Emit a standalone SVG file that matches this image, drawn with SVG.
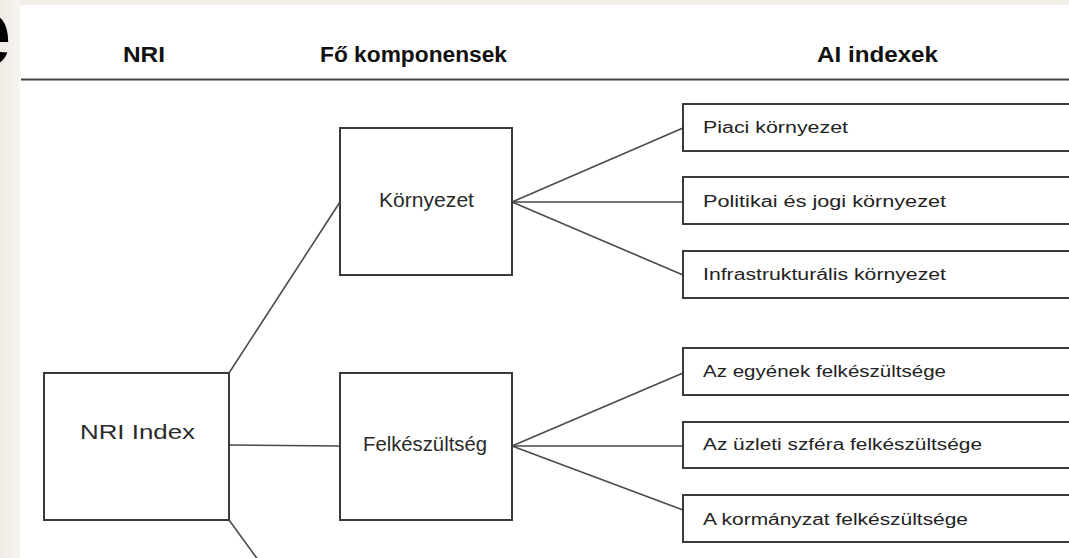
<svg xmlns="http://www.w3.org/2000/svg" width="1069" height="558" viewBox="0 0 1069 558">
  <defs>
    <linearGradient id="edge" x1="0" y1="0" x2="1" y2="0">
      <stop offset="0" stop-color="#efebe5"/>
      <stop offset="1" stop-color="#f6f4f0"/>
    </linearGradient>
    <style>
      .box { fill: #ffffff; stroke: #3a3a3a; stroke-width: 2; }
      .link { stroke: #4a4a4a; stroke-width: 1.6; fill: none; }
      .head { font-family: "Liberation Sans", Arial, sans-serif; font-weight: bold; font-size: 22px; fill: #111111; }
      .main { font-family: "Liberation Sans", Arial, sans-serif; font-size: 20px; fill: #2a2a2a; }
      .sub { font-family: "Liberation Sans", Arial, sans-serif; font-size: 16px; fill: #222222; }
    </style>
  </defs>

  <!-- page background and margins -->
  <rect x="0" y="0" width="1069" height="558" fill="#ffffff"/>
  <rect x="0" y="0" width="1069" height="5" fill="#f1eee9"/>
  <rect x="0" y="0" width="20" height="558" fill="url(#edge)"/>
  <text x="-44" y="66" font-family="Liberation Sans, Arial, sans-serif" font-weight="bold" font-size="100" fill="#000000">e</text>

  <!-- column headings -->
  <g id="headings">
    <text class="head" x="123" y="62" textLength="42" lengthAdjust="spacingAndGlyphs">NRI</text>
    <text class="head" x="320" y="62" textLength="187" lengthAdjust="spacingAndGlyphs">Fő komponensek</text>
    <text class="head" x="817" y="62" textLength="121" lengthAdjust="spacingAndGlyphs">AI indexek</text>
    <line x1="21" y1="79.5" x2="1069" y2="79.5" stroke="#444444" stroke-width="2"/>
  </g>

  <!-- connectors -->
  <g id="connectors">
    <line class="link" x1="229" y1="373" x2="340" y2="202"/>
    <line class="link" x1="229" y1="445" x2="340" y2="446"/>
    <line class="link" x1="229" y1="520" x2="264" y2="568"/>
    <line class="link" x1="512" y1="202" x2="683" y2="128"/>
    <line class="link" x1="512" y1="202" x2="683" y2="202"/>
    <line class="link" x1="512" y1="202" x2="683" y2="275"/>
    <line class="link" x1="512" y1="446" x2="683" y2="373"/>
    <line class="link" x1="512" y1="446" x2="683" y2="446"/>
    <line class="link" x1="512" y1="446" x2="683" y2="510"/>
  </g>

  <g id="nri-index">
    <rect class="box" x="44" y="373" width="185" height="147"/>
    <text class="main" x="80" y="439" font-size="23" textLength="115" lengthAdjust="spacingAndGlyphs">NRI Index</text>
  </g>

  <g id="kornyezet">
    <rect class="box" x="340" y="128" width="172" height="147"/>
    <text class="main" x="379" y="207" textLength="95" lengthAdjust="spacingAndGlyphs">Környezet</text>
  </g>

  <g id="felkeszultseg">
    <rect class="box" x="340" y="373" width="172" height="147"/>
    <text class="main" x="363" y="451" textLength="124" lengthAdjust="spacingAndGlyphs">Felkészültség</text>
  </g>

  <g id="piaci">
    <rect class="box" x="683" y="104" width="420" height="47"/>
    <text class="sub" x="703" y="133" textLength="145" lengthAdjust="spacingAndGlyphs">Piaci környezet</text>
  </g>

  <g id="politikai">
    <rect class="box" x="683" y="177" width="420" height="47"/>
    <text class="sub" x="703" y="207" textLength="243" lengthAdjust="spacingAndGlyphs">Politikai és jogi környezet</text>
  </g>

  <g id="infrastrukturalis">
    <rect class="box" x="683" y="251" width="420" height="47"/>
    <text class="sub" x="703" y="280" textLength="243" lengthAdjust="spacingAndGlyphs">Infrastrukturális környezet</text>
  </g>

  <g id="egyenek">
    <rect class="box" x="683" y="348" width="420" height="47"/>
    <text class="sub" x="703" y="377" textLength="243" lengthAdjust="spacingAndGlyphs">Az egyének felkészültsége</text>
  </g>

  <g id="uzleti">
    <rect class="box" x="683" y="422" width="420" height="46"/>
    <text class="sub" x="703" y="450" textLength="279" lengthAdjust="spacingAndGlyphs">Az üzleti szféra felkészültsége</text>
  </g>

  <g id="kormanyzat">
    <rect class="box" x="683" y="495" width="420" height="47"/>
    <text class="sub" x="703" y="525" textLength="265" lengthAdjust="spacingAndGlyphs">A kormányzat felkészültsége</text>
  </g>
</svg>
